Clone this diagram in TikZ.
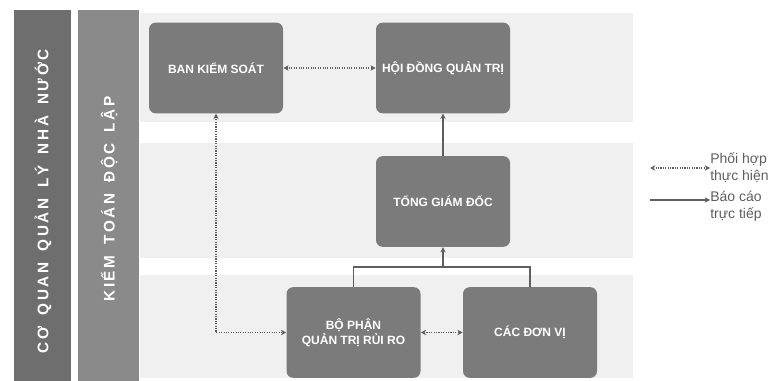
\documentclass[tikz,border=0pt]{standalone}
\usepackage{fontspec}
\setmainfont{Liberation Sans}
\newfontfamily\bandfont[LetterSpace=17,WordSpace=1.6]{Liberation Sans}
\usetikzlibrary{arrows.meta}

\definecolor{boxgray}{HTML}{7B7B7B}
\definecolor{stategray}{HTML}{6E6E6E}
\definecolor{auditgray}{HTML}{8A8A8A}
\definecolor{rowgray}{HTML}{F0F0F0}
\definecolor{linegray}{HTML}{5E5E5E}

\tikzset{
  unitbox/.style={fill=boxgray, rounded corners=5pt, minimum width=100.5pt, minimum height=68pt,
    inner sep=0pt, text=white, align=center, font=\fontsize{9}{11.5}\selectfont\bfseries},
  bandtext/.style={rotate=90, text=white, inner sep=0pt,
    font=\bandfont\fontsize{11.5}{13}\selectfont\bfseries},
  coop/.style={densely dotted, linegray, thick, {Stealth[length=4pt,width=4pt]}-{Stealth[length=4pt,width=4pt]}},
  report/.style={linegray, thick, -{Stealth[length=4pt,width=4pt]}},
  legtext/.style={anchor=west, inner sep=0pt, align=left, text=linegray, font=\fontsize{10.5}{12.5}\selectfont},
}

\begin{document}
\begin{tikzpicture}[x=0.75pt,y=-0.75pt]
\useasboundingbox (0,0) rectangle (768,381);
% background rows
\fill[rowgray] (140,13) rectangle (633,122);
\fill[rowgray] (140,143) rectangle (633,258);
\fill[rowgray] (140,275) rectangle (633,378);
% left bands
\fill[stategray] (14,10) rectangle (71,381);
\fill[auditgray] (78,10) rectangle (139,381);
\node[bandtext] (state) at (43,201) {CƠ QUAN QUẢN LÝ NHÀ NƯỚC};
\node[bandtext] (audit) at (109,199) {KIỂM TOÁN ĐỘC LẬP};

% boxes
\node[unitbox] (bks) at (216,68) {BAN KIỂM SOÁT};
\node[unitbox] (hdqt) at (443,68) {HỘI ĐỒNG QUẢN TRỊ};
\node[unitbox] (tgd) at (443,201.5) {TỔNG GIÁM ĐỐC};
\node[unitbox] (bp) at (353.5,332.5) {BỘ PHẬN\\QUẢN TRỊ RỦI RO};
\node[unitbox] (cdv) at (530,332.5) {CÁC ĐƠN VỊ};

% connectors
\coordinate (junc) at (443,267);
\draw[coop] (bks) -- (hdqt);
\draw[report] (tgd) -- (hdqt);
\draw[linegray, thick] (bp.north) |- (junc) -| (cdv.north);
\draw[report] (junc) -- (tgd.south);
\draw[coop] (bks.south) |- (bp.west);
\draw[coop] (bp) -- (cdv);

% legend
\node[legtext] (leg1) at (710,168) {Phối hợp\\thực hiện};
\node[legtext] (leg2) at (710,206) {Báo cáo\\trực tiếp};
\coordinate (coopstart) at (650,168);
\coordinate (repstart) at (650,200);
\draw[coop] (coopstart) -- (coopstart -| leg1.west);
\draw[report] (repstart) -- (repstart -| leg2.west);
\end{tikzpicture}
\end{document}
